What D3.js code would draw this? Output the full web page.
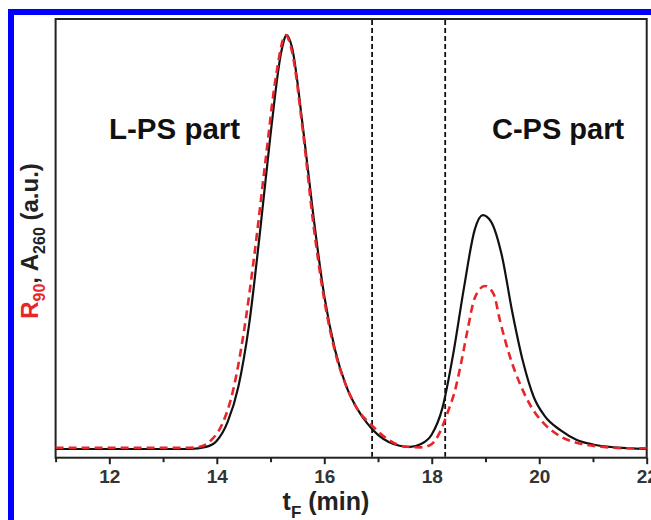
<!DOCTYPE html>
<html>
<head>
<meta charset="utf-8">
<script src="https://cdn.jsdelivr.net/npm/d3@7"></script>
<style>
  body { margin: 0; background: #fff; }
  svg { display: block; font-family: Arial, "Liberation Sans", sans-serif; }
</style>
</head>
<body>
<svg id="chart" width="651" height="520"></svg>
<script>
// A260 (black solid) trace
var a260Time = [11, 13.5, 13.8, 14.0, 14.2, 14.4, 14.6, 14.8, 15.0, 15.2, 15.3, 15.4, 15.6, 15.8, 16.0, 16.2, 16.4, 16.6, 16.8, 17.0, 17.2, 17.4, 17.6, 17.8, 18.0, 18.2, 18.4, 18.6, 18.8, 18.95, 19.1, 19.3, 19.5, 19.7, 19.9, 20.1, 20.4, 20.7, 21.0, 21.4, 21.8, 22];
var a260Value = [0, 0, 0.005, 0.02, 0.065, 0.15, 0.3, 0.52, 0.76, 0.96, 1.0, 0.97, 0.78, 0.56, 0.37, 0.24, 0.155, 0.1, 0.062, 0.034, 0.017, 0.008, 0.005, 0.012, 0.035, 0.1, 0.23, 0.39, 0.53, 0.565, 0.55, 0.47, 0.33, 0.21, 0.125, 0.08, 0.045, 0.022, 0.011, 0.004, 0.001, 0];

// R90 (red dashed) trace
var r90Time = [11, 13.5, 13.7, 13.9, 14.1, 14.3, 14.5, 14.7, 14.9, 15.1, 15.28, 15.4, 15.6, 15.8, 16.0, 16.2, 16.4, 16.6, 16.9, 17.2, 17.5, 17.8, 18.0, 18.15, 18.3, 18.43, 18.55, 18.67, 18.8, 18.99, 19.15, 19.27, 19.45, 19.65, 19.86, 20.1, 20.4, 20.8, 21.2, 21.6, 22];
var r90Value = [0.003, 0.003, 0.006, 0.022, 0.06, 0.14, 0.28, 0.47, 0.69, 0.9, 1.0, 0.96, 0.77, 0.54, 0.36, 0.235, 0.155, 0.1, 0.055, 0.022, 0.006, 0.004, 0.012, 0.04, 0.09, 0.14, 0.21, 0.29, 0.365, 0.394, 0.375, 0.31, 0.225, 0.155, 0.1, 0.06, 0.03, 0.012, 0.005, 0.002, 0.002];

// boundaries between the two parts
var splitTimes = [16.89, 18.25];

var majorTicks = [12, 14, 16, 18, 20, 22];
var minorTicks = [11, 13, 15, 17, 19, 21];

var partLabels = ['L-PS part', 'C-PS part'];

// Layout (note: "top" is taken by window.top, so use plot_* names)
var svg = d3.select('#chart');
var plot_left = 55.6, plot_right = 646.7, plot_top = 19, plot_bottom = 457.7;

var x = d3.scaleLinear().domain([11, 22]).range([plot_left, plot_right]);
var y = d3.scaleLinear().domain([-0.021, 1.039]).range([plot_bottom, plot_top]);

// blue outer border
svg.append('rect')
   .attr('x', 11).attr('y', 12)
   .attr('width', 700).attr('height', 600)
   .attr('fill', 'none')
   .attr('stroke', '#0000ff')
   .attr('stroke-width', 6);

// x axis, minor ticks
var xMinor = svg.append('g')
   .attr('transform', 'translate(0,' + plot_bottom + ')')
   .call(d3.axisBottom(x).tickValues(minorTicks).tickSize(4.5).tickFormat(''));
xMinor.select('.domain').remove();
xMinor.selectAll('line').attr('stroke', '#222').attr('stroke-width', 2);

// x axis, major ticks
var xAxis = svg.append('g')
   .attr('transform', 'translate(0,' + plot_bottom + ')')
   .call(d3.axisBottom(x).tickValues(majorTicks).tickSize(6.5).tickPadding(5).tickFormat(d3.format('d')));
xAxis.select('.domain').remove();
xAxis.selectAll('line').attr('stroke', '#222').attr('stroke-width', 2);
xAxis.selectAll('text')
     .attr('font-size', 19)
     .attr('font-weight', 'bold')
     .attr('font-family', 'Arial, "Liberation Sans", sans-serif')
     .attr('fill', '#333');

// frame
svg.append('rect')
   .attr('x', plot_left).attr('y', plot_top)
   .attr('width', plot_right - plot_left).attr('height', plot_bottom - plot_top)
   .attr('fill', 'none')
   .attr('stroke', '#222')
   .attr('stroke-width', 2);

// dashed boundaries
svg.selectAll('.split')
   .data(splitTimes)
   .enter().append('line')
   .attr('class', 'split')
   .attr('x1', function(d) { return x(d); })
   .attr('x2', function(d) { return x(d); })
   .attr('y1', plot_top + 1).attr('y2', plot_bottom - 1)
   .attr('stroke', '#111')
   .attr('stroke-width', 1.8)
   .attr('stroke-dasharray', '5,3');

var line = d3.line()
   .x(function(d) { return x(d[0]); })
   .y(function(d) { return y(d[1]); })
   .curve(d3.curveMonotoneX);

var a260 = d3.zip(a260Time, a260Value);
var r90 = d3.zip(r90Time, r90Value);

svg.append('path')
   .datum(a260)
   .attr('d', line)
   .attr('fill', 'none')
   .attr('stroke', '#111')
   .attr('stroke-width', 2.2);

svg.append('path')
   .datum(r90)
   .attr('d', line)
   .attr('fill', 'none')
   .attr('stroke', '#e8262a')
   .attr('stroke-width', 2.6)
   .attr('stroke-dasharray', '8,5');

// part labels
svg.append('text')
   .attr('x', 109).attr('y', 139)
   .attr('font-size', 29.5).attr('font-weight', 'bold').attr('fill', '#111')
   .text(partLabels[0]);
svg.append('text')
   .attr('x', 492).attr('y', 139)
   .attr('font-size', 29).attr('font-weight', 'bold').attr('fill', '#111')
   .text(partLabels[1]);

// x label: t_F (min)
var xl = svg.append('text')
   .attr('x', 326).attr('y', 510)
   .attr('text-anchor', 'middle')
   .attr('font-size', 25).attr('font-weight', 'bold').attr('fill', '#222');
xl.append('tspan').text('t');
xl.append('tspan').attr('font-size', 17).attr('dy', 8).text('F');
xl.append('tspan').attr('dy', -8).text(' (min)');

// y label: R90, A260 (a.u.)
var yl = svg.append('text')
   .attr('transform', 'translate(38,241) rotate(-90)')
   .attr('text-anchor', 'middle')
   .attr('font-size', 24).attr('font-weight', 'bold').attr('fill', '#222');
yl.append('tspan').attr('fill', '#e8262a').text('R');
yl.append('tspan').attr('fill', '#e8262a').attr('font-size', 16).attr('dy', 7).text('90');
yl.append('tspan').attr('dy', -7).text(', A');
yl.append('tspan').attr('font-size', 16).attr('dy', 7).text('260');
yl.append('tspan').attr('dy', -7).text(' (a.u.)');
</script>
</body>
</html>
